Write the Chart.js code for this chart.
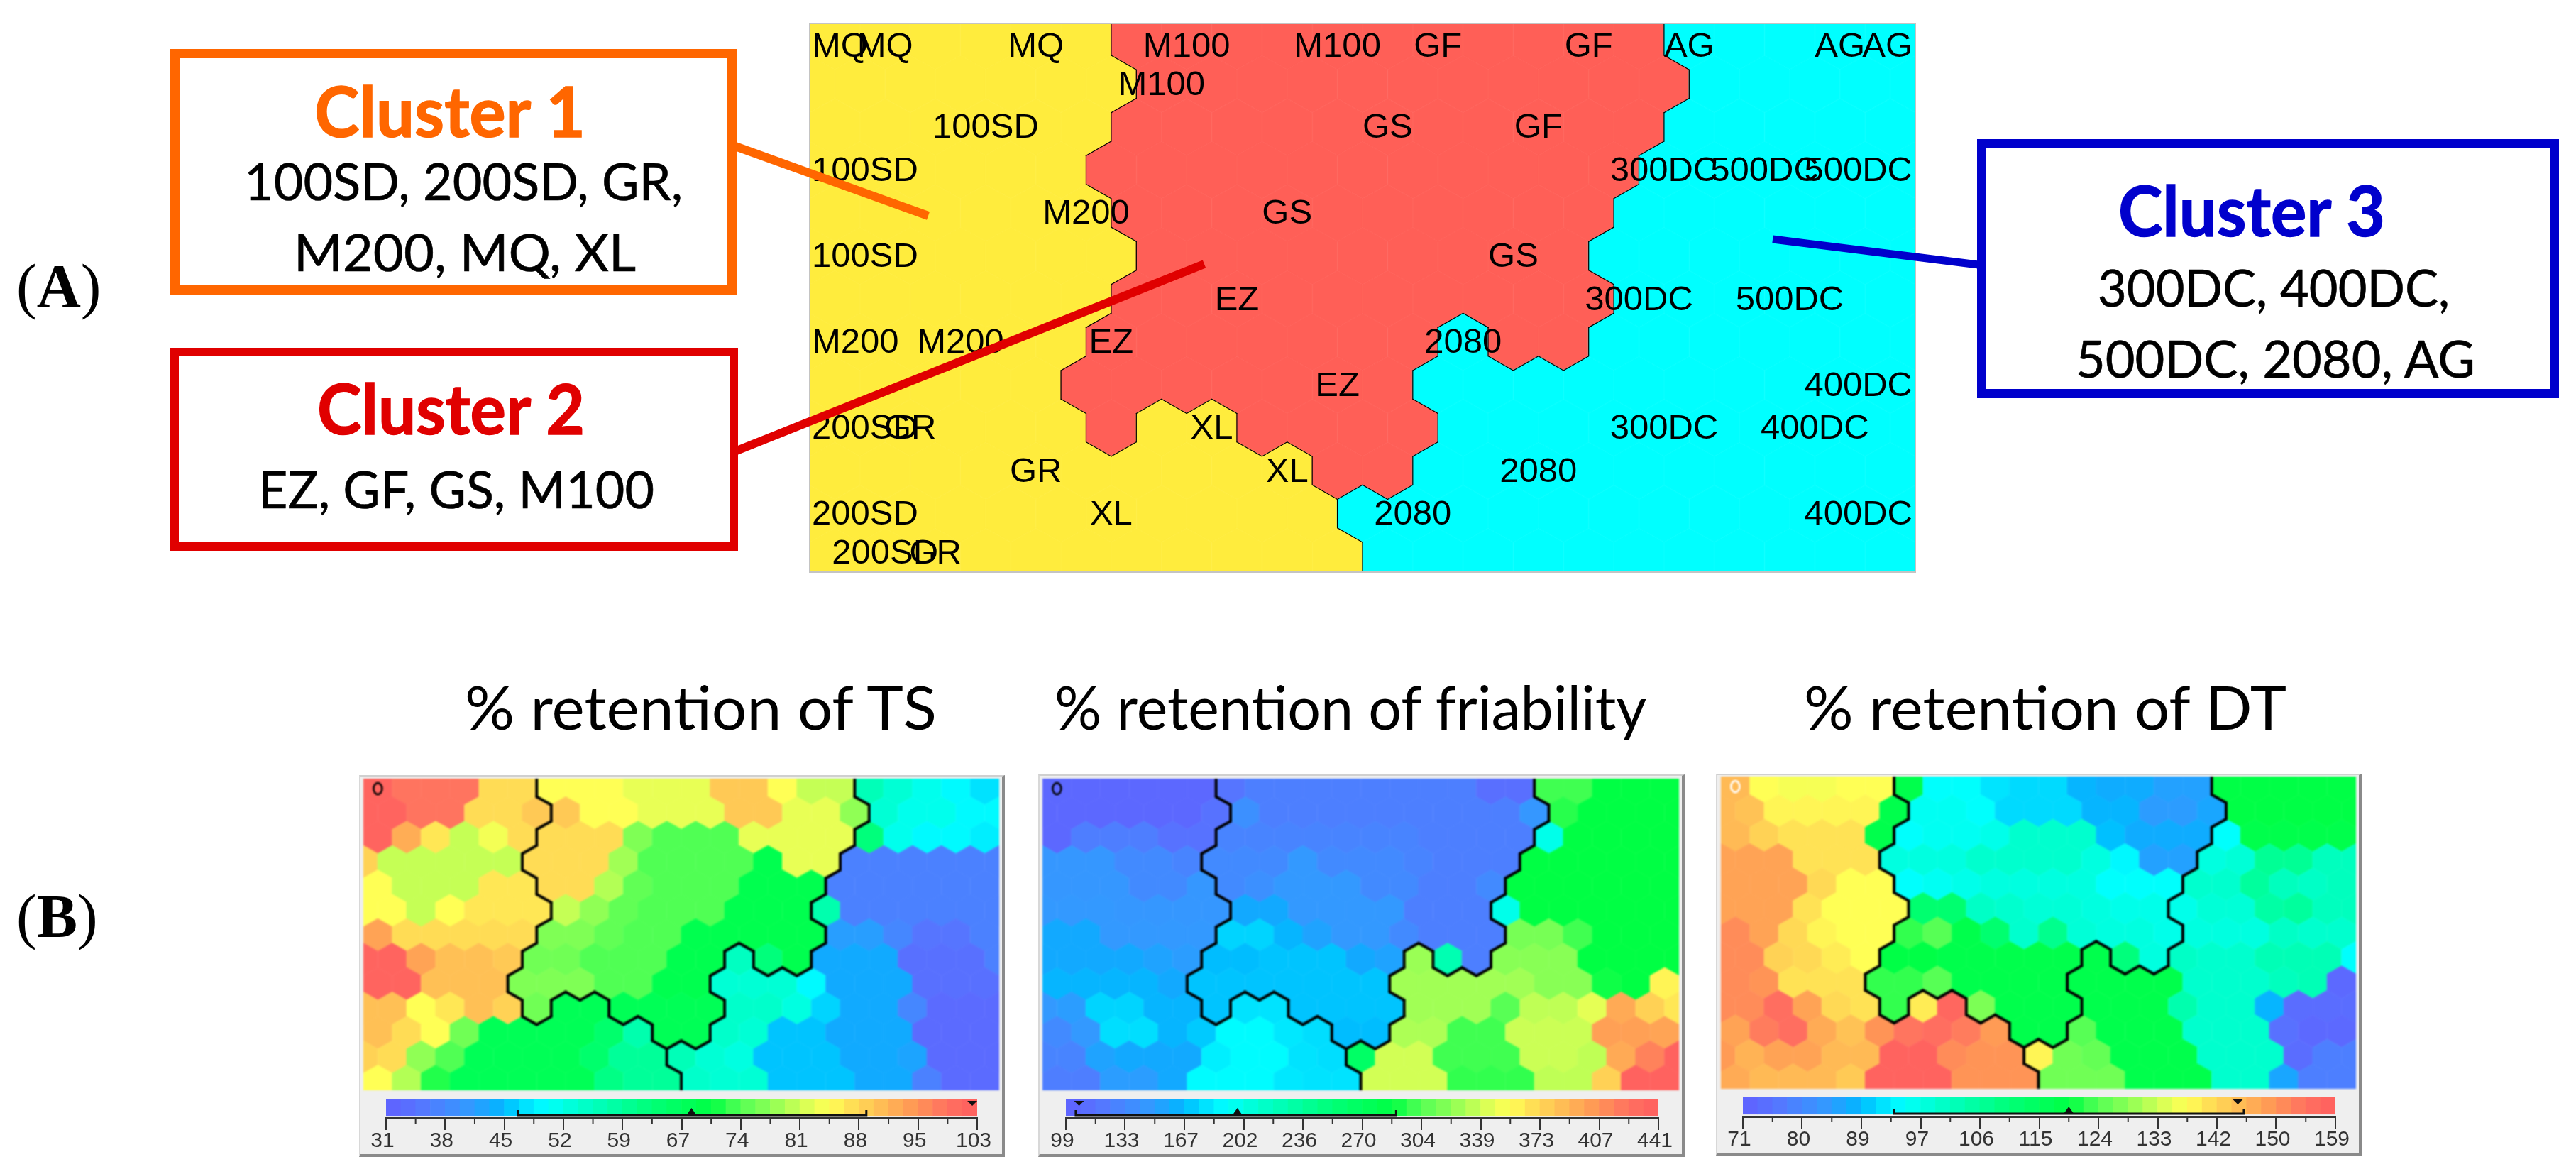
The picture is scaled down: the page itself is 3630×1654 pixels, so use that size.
<!DOCTYPE html>
<html><head><meta charset="utf-8">
<script src="https://cdn.jsdelivr.net/npm/chart.js@4/dist/chart.umd.min.js"></script>
<style>
html,body{margin:0;padding:0;background:#fff;width:3630px;height:1654px;overflow:hidden}
canvas{position:absolute;display:block}
.panel{position:absolute;background:#efefef;box-sizing:border-box;border-top:2px solid #d0d0d0;border-left:2px solid #d8d8d8;border-right:4px solid #8a8a8a;border-bottom:4px solid #8a8a8a}
svg{position:absolute;left:0;top:0}
</style></head><body>
<div class="panel" style="left:506px;top:1092px;width:910px;height:538px"></div>
<div class="panel" style="left:1463px;top:1091px;width:911px;height:539px"></div>
<div class="panel" style="left:2418px;top:1090px;width:910px;height:538px"></div>
<canvas id="mapA" width="1558" height="773" style="left:1141px;top:33px"></canvas>
<canvas id="mapTS" width="896" height="439" style="left:512px;top:1097px;filter:blur(1.1px)"></canvas>
<canvas id="mapFR" width="897" height="439" style="left:1469px;top:1097px;filter:blur(1.1px)"></canvas>
<canvas id="mapDT" width="895" height="440" style="left:2425px;top:1094px;filter:blur(1.1px)"></canvas>
<canvas id="barTS" width="953" height="77" style="left:484px;top:1548px;filter:blur(.7px)"></canvas>
<canvas id="barFR" width="955" height="77" style="left:1442px;top:1548px;filter:blur(.7px)"></canvas>
<canvas id="barDT" width="955" height="77" style="left:2396px;top:1546px;filter:blur(.7px)"></canvas>
<svg width="3630" height="1654" xmlns="http://www.w3.org/2000/svg" font-family="Lato">
  <rect x="1141" y="33" width="1558" height="773" fill="none" stroke="#c4c4c4" stroke-width="2"/>
  <rect x="246.5" y="75.5" width="785" height="333" fill="#fff" stroke="#ff6600" stroke-width="13"/>
  <rect x="246" y="496" width="788" height="274" fill="#fff" stroke="#e00000" stroke-width="12"/>
  <rect x="2792.5" y="202.5" width="807" height="352" fill="#fff" stroke="#0000cc" stroke-width="13"/>
  <line x1="1036" y1="206" x2="1308" y2="304" stroke="#ff6600" stroke-width="12"/>
  <line x1="1038" y1="635" x2="1697" y2="372" stroke="#e00000" stroke-width="12"/>
  <line x1="2498" y1="337" x2="2788" y2="373" stroke="#0000cc" stroke-width="11"/>
  <text x="443" y="193" font-size="98" font-weight="700" fill="#ff6600" stroke="#ff6600" stroke-width="1.5" textLength="382" lengthAdjust="spacingAndGlyphs">Cluster 1</text>
  <text x="344" y="282" font-size="71" fill="#000" stroke="#000" stroke-width=".6" textLength="618" lengthAdjust="spacingAndGlyphs">100SD, 200SD, GR,</text>
  <text x="414" y="382" font-size="71" fill="#000" stroke="#000" stroke-width=".6" textLength="482" lengthAdjust="spacingAndGlyphs">M200, MQ, XL</text>
  <text x="447" y="612" font-size="98" font-weight="700" fill="#e00000" stroke="#e00000" stroke-width="1.5" textLength="377" lengthAdjust="spacingAndGlyphs">Cluster 2</text>
  <text x="364" y="716" font-size="71" fill="#000" stroke="#000" stroke-width=".6" textLength="558" lengthAdjust="spacingAndGlyphs">EZ, GF, GS, M100</text>
  <text x="2985" y="333" font-size="98" font-weight="700" fill="#0000cc" stroke="#0000cc" stroke-width="1.5" textLength="376" lengthAdjust="spacingAndGlyphs">Cluster 3</text>
  <text x="2956" y="432" font-size="71" fill="#000" stroke="#000" stroke-width=".6" textLength="496" lengthAdjust="spacingAndGlyphs">300DC, 400DC,</text>
  <text x="2925" y="532" font-size="71" fill="#000" stroke="#000" stroke-width=".6" textLength="563" lengthAdjust="spacingAndGlyphs">500DC, 2080, AG</text>
  <text x="655" y="1028" font-size="86" fill="#000" textLength="665" lengthAdjust="spacingAndGlyphs">% retention of TS</text>
  <text x="1486" y="1028" font-size="86" fill="#000" textLength="834" lengthAdjust="spacingAndGlyphs">% retention of friability</text>
  <text x="2542" y="1028" font-size="86" fill="#000" textLength="680" lengthAdjust="spacingAndGlyphs">% retention of DT</text>
  <text x="23" y="432" font-family="Liberation Serif" font-size="86" fill="#000">(<tspan font-weight="700">A</tspan>)</text>
  <text x="23" y="1320" font-family="Liberation Serif" font-size="86" fill="#000">(<tspan font-weight="700">B</tspan>)</text>
</svg>
<script>
// ---------- SOM cluster membership: 1 / 2 / 3, rows of 22 and 23 cells in turn ----------
const clusterRows = [
 "1111112222222222233333",
 "11111112222222222233333",
 "1111112222222222233333",
 "11111122222222222333333",
 "1111112222222222333333",
 "11111112222222223333333",
 "1111112222222222333333",
 "11111122222223223333333",
 "1111122222223333333333",
 "11111121122223333333333",
 "1111111111223333333333",
 "11111111111333333333333",
 "1111111111133333333333"
];
// ---------- % retention of TS ----------
const tsRetention = [
 [102,99,99,99,88,88,85,85,85,83,83,83,90,90,85,81,81,57,54,52,50,48],
 [102,102,99,99,88,88,90,90,85,85,83,83,83,90,90,83,83,78,54,52,52,50,50],
 [102,93,87,81,84,88,88,88,88,77,74,74,74,83,83,83,83,63,52,50,50,49],
 [89,81,81,81,81,81,88,88,88,79,74,74,74,74,69,83,83,37,37,37,37,37,37],
 [85,81,81,81,87,87,88,88,80,75,74,74,74,69,69,69,37,37,37,37,37,37],
 [85,85,81,85,87,87,87,81,78,75,74,74,74,69,69,69,58,37,37,37,37,37,37],
 [94,88,88,88,88,88,77,77,75,74,74,69,69,69,69,69,42,42,38,35,35,37],
 [102,102,94,91,91,90,76,76,74,74,74,69,69,56,63,69,44,44,44,34,34,34,37],
 [102,102,91,91,91,77,77,77,74,74,69,69,54,54,54,50,44,44,44,34,34,34],
 [91,91,85,87,91,89,76,68,68,68,68,68,68,55,55,53,47,44,44,38,33,33,33],
 [91,88,85,76,68,68,68,68,65,58,68,68,55,54,46,46,44,44,44,33,33,33],
 [89,88,78,74,68,68,68,68,65,60,60,57,54,53,46,46,46,44,44,43,33,33,33],
 [85,80,72,68,68,68,68,68,62,60,60,55,54,54,46,46,46,44,44,37,33,33]
];
// ---------- % retention of friability ----------
const friabilityRetention = [
 [106,106,106,106,106,106,118,126,126,126,126,126,126,126,126,112,112,300,300,287,287,287],
 [106,106,106,106,106,106,115,140,126,126,126,126,126,126,126,126,126,145,295,287,287,287,287],
 [106,125,125,125,115,115,130,130,130,130,130,130,130,126,126,126,126,200,287,287,287,287],
 [145,145,145,135,135,130,135,135,135,147,135,135,135,130,126,126,126,287,287,287,287,287,287],
 [145,145,145,135,135,145,135,140,147,147,147,135,135,126,126,135,287,287,287,287,287,287],
 [147,147,147,145,145,145,145,160,160,147,147,147,147,126,126,126,200,287,287,287,287,287,287],
 [160,160,147,147,147,147,175,175,165,155,147,147,135,126,126,126,315,315,300,287,287,287],
 [160,160,160,160,155,150,168,168,170,170,170,160,155,325,225,126,320,320,320,287,287,287,287],
 [165,165,165,165,160,170,170,170,170,170,170,170,327,327,327,327,327,320,320,290,287,360],
 [147,150,175,175,165,165,170,180,180,170,170,170,170,327,327,327,305,335,335,345,395,375,365],
 [135,147,178,178,165,172,190,190,182,178,168,168,330,330,300,300,338,338,338,400,400,398],
 [130,130,155,160,160,160,185,190,190,180,178,265,340,340,300,300,300,338,338,335,395,415,438],
 [125,125,150,150,160,190,190,190,182,180,180,340,340,340,297,297,297,335,335,375,438,438]
];
// ---------- % retention of DT ----------
const dtRetention = [
 [145,137,136,136,137,137,118,95,95,92,91,91,88,87,87,85,85,119,119,119,119,119],
 [145,144,138,138,138,138,118,96,96,95,91,91,91,88,88,84,84,86,119,119,119,119,119],
 [145,142,140,140,140,118,95,96,96,97,100,100,100,89,87,87,87,95,118,118,118,118],
 [148,148,148,140,140,140,98,98,98,100,100,100,100,98,94,85,85,98,99,107,107,102,102],
 [148,148,148,141,137,137,95,96,97,98,98,98,98,95,95,95,100,100,106,102,101,102],
 [148,148,148,140,137,137,137,112,112,101,100,99,99,98,97,97,97,99,99,105,106,102,102],
 [151,148,141,138,137,137,122,124,118,112,100,108,99,98,98,97,98,98,98,101,100,100],
 [151,151,142,141,139,137,119,119,118,118,118,118,118,118,110,98,101,100,100,103,103,103,95],
 [151,150,140,140,140,122,122,124,118,118,118,118,118,118,118,118,100,100,100,102,103,73],
 [151,151,155,148,141,140,122,139,157,127,118,118,118,118,118,118,104,100,100,88,74,74,74],
 [148,153,155,147,144,150,154,155,153,149,118,118,124,118,118,118,100,100,100,75,73,73],
 [149,146,148,148,145,145,158,158,151,150,150,138,126,125,118,118,118,100,100,100,74,78,78],
 [147,145,145,145,143,158,158,158,150,150,150,126,126,126,118,118,118,100,100,86,78,78]
];
// ---------- tick labels and colour-bar markers ----------
const tsTicks = ["31","38","45","52","59","67","74","81","88","95","103"];
const friabilityTicks = ["99","133","167","202","236","270","304","339","373","407","441"];
const dtTicks = ["71","80","89","97","106","115","124","133","142","150","159"];
const tsMarkers = [47.1,89.5,68.2,102.4];          // range low, range high, mean, current
const friabilityMarkers = [104.7,289.6,198,106.6];
const dtMarkers = [93.4,145.4,119.4,144.5];
// ---------- product labels on map A: name, column position, row ----------
const labelNames = ["MQ","MQ","MQ","M100","M100","GF","GF","AG","AG","AG","M100","100SD","GS","GF","100SD","300DC","500DC","500DC","M200","GS","100SD","GS","EZ","300DC","500DC","M200","M200","EZ","2080","EZ","400DC","200SD","GR","XL","300DC","400DC","GR","XL","2080","200SD","XL","2080","400DC","200SD","GR"];
const labelCols = [0.5,1.5,4.5,7.5,10.5,12.5,15.5,17.5,20.5,21.5,7,3.5,11.5,14.5,0,17,19,21,5.5,9.5,0,14,8.5,16.5,19.5,0,3,6,13,10.5,21.5,0,2,8,17,20,4.5,9.5,14.5,0,6,12,21,1.5,2.5];
const labelRows = [0,0,0,0,0,0,0,0,0,0,1,2,2,2,3,3,3,3,4,4,5,5,6,6,6,7,7,7,7,8,8,9,9,9,9,9,10,10,10,11,11,11,11,12,12];

const clusterColors = {1:"#ffec3d",2:"#ff5f57",3:"#00ffff"};
const rampStops = [[0,"#6060ff"],[.06,"#5577ff"],[.1,"#4488ff"],[.14,"#3399ff"],[.18,"#11aaff"],[.2,"#00bbff"],[.23,"#00ddff"],[.27,"#00ffff"],[.32,"#00ffd5"],[.38,"#00ffaa"],[.45,"#00ff77"],[.55,"#00ff44"],[.6,"#55ff55"],[.64,"#80ff55"],[.66,"#99ff55"],[.7,"#ccff55"],[.72,"#e6ff55"],[.75,"#ffff55"],[.79,"#ffdd55"],[.84,"#ffbb55"],[.89,"#ff9955"],[.95,"#ff7060"],[1,"#ff5f5f"]];
function hexRGB(h){return [1,3,5].map(i=>parseInt(h.substr(i,2),16));}
function ramp(t){
  t=Math.max(0,Math.min(1,t));
  for(let i=1;i<rampStops.length;i++){
    if(t<=rampStops[i][0]){
      const [a,ca]=rampStops[i-1],[b,cb]=rampStops[i],f=(t-a)/(b-a);
      const A=hexRGB(ca),B=hexRGB(cb);
      return "rgb("+A.map((v,k)=>Math.round(v+(B[k]-v)*f)).join(",")+")";
    }
  }
  return rampStops[rampStops.length-1][1];
}
const sprites={};
// hexagon sprite; the first and last rows run flat to the edge of the map
function sprite(color,w,h,flatTop,flatBottom){
  const key=[color,w,h,flatTop,flatBottom].join("|");
  if(sprites[key])return sprites[key];
  const c=document.createElement("canvas");
  c.width=Math.ceil(w)+4;c.height=Math.ceil(h)+4;
  const g=c.getContext("2d"),cx=c.width/2,cy=c.height/2;
  g.beginPath();
  if(flatTop){g.moveTo(cx-w/2,0);g.lineTo(cx+w/2,0);}
  else{g.moveTo(cx-w/2,cy-h/4);g.lineTo(cx,cy-h/2);g.lineTo(cx+w/2,cy-h/4);}
  if(flatBottom){g.lineTo(cx+w/2,c.height);g.lineTo(cx-w/2,c.height);}
  else{g.lineTo(cx+w/2,cy+h/4);g.lineTo(cx,cy+h/2);g.lineTo(cx-w/2,cy+h/4);}
  g.closePath();
  g.fillStyle=color;g.strokeStyle=color;g.lineWidth=1;g.fill();g.stroke();
  return sprites[key]=c;
}
const Y_MIN=-0.41,Y_MAX=12.36,X_MAX=22;
const cellX=(r,i)=>r%2===0?i+0.5:i;
function cells(values){
  const out=[];
  clusterRows.forEach((row,r)=>{
    for(let i=0;i<row.length;i++){
      const cluster=+row[i];
      out.push({x:cellX(r,i),y:r,cluster,v:values?values[r][i]:cluster});
    }
  });
  return out;
}
// shared edges between neighbouring cells of different clusters
function boundaryPlugin(lineWidth){
  return {id:"boundary",afterDatasetsDraw(chart){
    const {ctx,scales:{x:X,y:Y}}=chart;
    const find=(r,xv)=>{
      if(r<0||r>=clusterRows.length)return null;
      const i=r%2===0?xv-0.5:xv;
      return i>=0&&i<clusterRows[r].length?+clusterRows[r][i]:null;
    };
    ctx.save();ctx.strokeStyle="#000";ctx.lineWidth=lineWidth;ctx.lineCap="round";
    const seg=(a,b,c,d)=>{ctx.beginPath();ctx.moveTo(X.getPixelForValue(a),Y.getPixelForValue(b));ctx.lineTo(X.getPixelForValue(c),Y.getPixelForValue(d));ctx.stroke();};
    clusterRows.forEach((row,r)=>{
      for(let i=0;i<row.length;i++){
        const cl=+row[i],xv=cellX(r,i);
        const e=find(r,xv+1),se=find(r+1,xv+0.5),sw=find(r+1,xv-0.5);
        if(e&&e!==cl)seg(xv+.5,r<1?-1:r-1/3,xv+.5,r===12?13:r+1/3);
        if(se&&se!==cl)seg(xv,r+2/3,xv+.5,r+1/3);
        if(sw&&sw!==cl)seg(xv,r+2/3,xv-.5,r+1/3);
      }
    });
    ctx.restore();
  }};
}
const labelPlugin={id:"labels",afterDatasetsDraw(chart){
  const {ctx,scales:{x:X,y:Y},chartArea:a}=chart;
  ctx.save();ctx.font='49px "Liberation Sans"';ctx.fillStyle="#000";ctx.textAlign="center";ctx.textBaseline="middle";
  labelNames.forEach((name,i)=>{
    const w=ctx.measureText(name).width;
    const px=Math.min(a.right-4-w/2,Math.max(a.left+3+w/2,X.getPixelForValue(labelCols[i])));
    const py=Math.min(a.bottom-26,Math.max(a.top+33,Y.getPixelForValue(labelRows[i])+2));
    ctx.fillText(name,px,py);
  });
  ctx.restore();
}};
function ringPlugin(color){
  return {id:"ring",afterDatasetsDraw(chart){
    const {ctx,scales:{x:X,y:Y}}=chart;
    ctx.save();ctx.strokeStyle=color;ctx.lineWidth=2.6;ctx.beginPath();
    ctx.ellipse(X.getPixelForValue(0.5),Y.getPixelForValue(0),6,8,0,0,Math.PI*2);ctx.stroke();ctx.restore();
  }};
}
function mapChart(id,data,colorOf,plugins){
  const cv=document.getElementById(id);
  const w=cv.width/X_MAX,h=cv.height/(Y_MAX-Y_MIN)*4/3;
  return new Chart(cv,{type:"scatter",
    data:{datasets:[{data,pointRadius:8,pointHoverRadius:8,pointBorderWidth:0,clip:false,
      pointStyle:c=>sprite(colorOf(c.raw),w,h,c.raw.y===0,c.raw.y===12)}]},
    options:{responsive:false,animation:false,events:[],layout:{padding:0,autoPadding:false},
      plugins:{legend:{display:false},tooltip:{enabled:false}},
      scales:{x:{type:"linear",display:false,min:0,max:X_MAX},y:{type:"linear",display:false,min:Y_MIN,max:Y_MAX,reverse:true}}},
    plugins});
}
function barChart(id,tickLabels,markers){
  const lo=+tickLabels[0],hi=+tickLabels[tickLabels.length-1];
  const levels=Array.from({length:40},(_,i)=>i);
  const cv=document.getElementById(id);
  const markerPlugin={id:"markers",afterDatasetsDraw(chart){
    const {ctx,scales:{x2},chartArea:a}=chart;
    const [l,h,mean,cur]=markers;
    const p=v=>x2.getPixelForValue(v);
    ctx.save();ctx.fillStyle="#111";ctx.strokeStyle="#111";
    const yLine=a.bottom-4;
    ctx.lineWidth=3;ctx.beginPath();ctx.moveTo(p(l),yLine-7);ctx.lineTo(p(l),yLine);ctx.lineTo(p(h),yLine);ctx.lineTo(p(h),yLine-7);ctx.stroke();
    ctx.beginPath();ctx.moveTo(p(mean)-7,yLine);ctx.lineTo(p(mean),yLine-10);ctx.lineTo(p(mean)+7,yLine);ctx.closePath();ctx.fill();
    ctx.beginPath();ctx.moveTo(p(cur)-7,a.top+3);ctx.lineTo(p(cur)+7,a.top+3);ctx.lineTo(p(cur),a.top+10);ctx.closePath();ctx.fill();
    // minor ticks half way between the labelled ones
    ctx.strokeStyle="#333";ctx.lineWidth=2;
    for(let i=0;i<tickLabels.length-1;i++){
      const m=lo+(i+0.5)*(hi-lo)/(tickLabels.length-1);
      ctx.beginPath();ctx.moveTo(p(m),a.bottom);ctx.lineTo(p(m),a.bottom+8);ctx.stroke();
    }
    ctx.restore();
  }};
  return new Chart(cv,{type:"bar",
    data:{labels:levels.map(String),datasets:[{data:levels.map(()=>[0.12,1]),
      backgroundColor:levels.map(i=>ramp((i+0.5)/40)),borderWidth:0,barPercentage:1,categoryPercentage:1,xAxisID:"x",yAxisID:"y"}]},
    options:{responsive:false,animation:false,events:[],
      layout:{padding:{left:60,right:60,top:0,bottom:0},autoPadding:false},
      plugins:{legend:{display:false},tooltip:{enabled:false}},
      scales:{
        x:{type:"category",display:false},
        y:{type:"linear",display:false,min:0,max:1},
        x2:{type:"linear",position:"bottom",min:lo,max:hi,offset:false,
          afterBuildTicks:s=>{s.ticks=tickLabels.map((_,i)=>({value:lo+i*(hi-lo)/(tickLabels.length-1)}));},
          afterFit:s=>{s.height=50;},
          border:{display:true,color:"#333",width:3},
          grid:{display:true,offset:false,drawOnChartArea:false,drawTicks:true,tickLength:17,color:"#333",lineWidth:2},
          ticks:{autoSkip:false,maxRotation:0,minRotation:0,padding:-2,labelOffset:-5,color:"#333",
            font:{family:'"Liberation Sans Narrow","Liberation Sans"',size:30},
            callback:(v,i)=>tickLabels[i]}}
      }},
    plugins:[markerPlugin]});
}
const valueColor=(lo,hi)=>p=>ramp((p.v-lo)/(hi-lo));
mapChart("mapA",cells(null),p=>clusterColors[p.cluster],[boundaryPlugin(1.2),labelPlugin]);
mapChart("mapTS",cells(tsRetention),valueColor(31,103),[boundaryPlugin(4),ringPlugin("#000")]);
mapChart("mapFR",cells(friabilityRetention),valueColor(99,441),[boundaryPlugin(4),ringPlugin("#000")]);
mapChart("mapDT",cells(dtRetention),valueColor(71,159),[boundaryPlugin(4),ringPlugin("#fff")]);
barChart("barTS",tsTicks,tsMarkers);
barChart("barFR",friabilityTicks,friabilityMarkers);
barChart("barDT",dtTicks,dtMarkers);
</script>
</body></html>
